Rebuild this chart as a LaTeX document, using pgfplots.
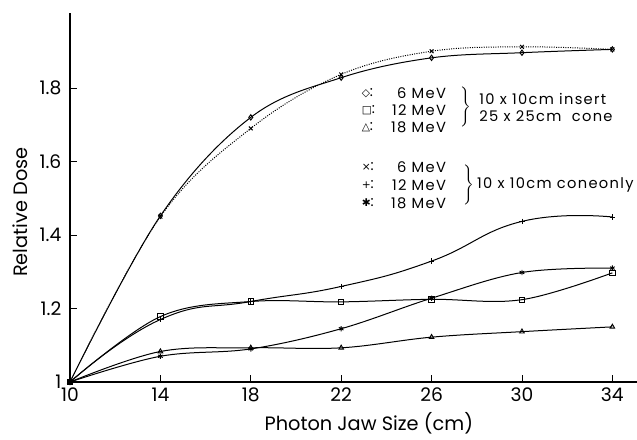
\documentclass[border=0pt]{standalone}
\usepackage{fontspec}
\setmainfont{Poppins}
\newfontfamily\legfont{Poppins}[LetterSpace=9]
\newfontfamily\sym{DejaVu Sans}
\usepackage{pgfplots}
\pgfplotsset{compat=1.18}
\begin{document}
\begin{tikzpicture}
\path[use as bounding box] (-52.5pt,-43.5pt) rectangle (425.25pt,286.5pt);
\begin{axis}[
 scale only axis, width=425.25pt, height=276.75pt,
 at={(0,0)}, anchor=south west,
 xmin=10, xmax=35.09, ymin=1, ymax=2.004,
 axis lines=left, axis line style={-, line width=0.9pt},
 tick align=inside, major tick length=5pt, tick style={line width=0.7pt,black},
 xtick={10,14,18,22,26,30,34}, ytick={1,1.2,1.4,1.6,1.8},
 yticklabels={1,1.2,1.4,1.6,1.8},
 /pgf/number format/assume math mode=true,
 ticklabel style={font=\fontsize{14}{16}\selectfont},
 yticklabel style={xshift=-3pt},
 xticklabel style={yshift=-1pt},
 xlabel={Photon Jaw Size (cm)}, ylabel={Relative Dose},
 label style={font=\fontsize{14.5}{17}\selectfont},
 xlabel style={at={(axis description cs:0.527,-0.112)}, anchor=center},
 ylabel style={at={(axis description cs:-0.088,0.46)}, anchor=center},
 clip=false,
 every axis plot/.append style={black, line width=0.75pt, smooth, tension=0.6, mark size=2pt, mark options={solid, line width=0.7pt}},
]
% 6 MeV insert
\addplot[mark=diamond] coordinates {(10,1) (14,1.452) (18,1.72) (22,1.828) (26,1.882) (30,1.896) (34,1.905)};
% 12 MeV insert
\addplot[mark=square] coordinates {(10,1) (14,1.178) (18,1.219) (22,1.218) (26,1.225) (30,1.224) (34,1.297)};
% 18 MeV insert
\addplot[mark=triangle] coordinates {(10,1) (14,1.083) (18,1.093) (22,1.093) (26,1.122) (30,1.137) (34,1.15)};
% 6 MeV cone only
\addplot[densely dotted, mark=x] coordinates {(10,1) (14,1.45) (18,1.69) (22,1.837) (26,1.9) (30,1.912) (34,1.905)};
% 12 MeV cone only
\addplot[mark=+, tension=0.8] coordinates {(10,1) (14,1.17) (18,1.219) (22,1.26) (26,1.329) (30,1.437) (34,1.449)};
% 18 MeV cone only
\addplot[mark=asterisk] coordinates {(10,1) (14,1.07) (18,1.09) (22,1.145) (26,1.228) (30,1.298) (34,1.31)};

% legend block 1
\begin{scope}[every node/.style={inner sep=0pt, font=\legfont\fontsize{11}{13}\selectfont}]
\node[anchor=west] at (axis cs:22.9,1.786) {{\sym\footnotesize ◇}:};
\node[anchor=west] at (axis cs:22.9,1.740) {{\sym\footnotesize □}:};
\node[anchor=west] at (axis cs:22.9,1.694) {{\sym\footnotesize △}:};
\node[anchor=east] at (axis cs:26.65,1.786) {6 MeV};
\node[anchor=east] at (axis cs:26.65,1.740) {12 MeV};
\node[anchor=east] at (axis cs:26.65,1.694) {18 MeV};
\node at (axis cs:27.5,1.748) {$\left.\vrule height 11pt depth 11pt width 0pt\right\}$};
\node[anchor=west] at (axis cs:28.1,1.770) {10 x 10cm insert};
\node[anchor=west] at (axis cs:28.1,1.724) {25 x 25cm\ \ cone};
% legend block 2
\node[anchor=west] at (axis cs:22.9,1.585) {{\sym\footnotesize ×}:};
\node[anchor=west] at (axis cs:22.9,1.536) {{\sym\footnotesize +}:};
\node[anchor=west] at (axis cs:22.9,1.487) {{\sym\footnotesize ✱}:};
\node[anchor=east] at (axis cs:26.65,1.585) {6 MeV};
\node[anchor=east] at (axis cs:26.65,1.536) {12 MeV};
\node[anchor=east] at (axis cs:26.65,1.487) {18 MeV};
\node at (axis cs:27.6,1.536) {$\left.\vrule height 11pt depth 11pt width 0pt\right\}$};
\node[anchor=west] at (axis cs:28.0,1.536) {10 x 10cm coneonly};
\end{scope}
\end{axis}
\end{tikzpicture}
\end{document}
